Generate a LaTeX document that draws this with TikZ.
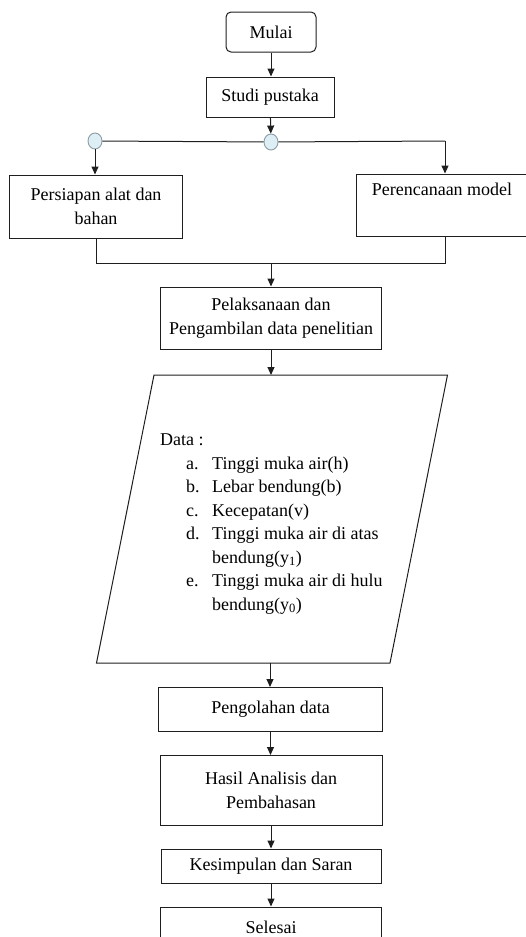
\documentclass[tikz,border=0pt]{standalone}
\usepackage{fontspec}
\setmainfont{Liberation Serif}
\usepackage{xcolor}
\definecolor{jointfill}{HTML}{DDEFF4}
\definecolor{jointline}{HTML}{8C9CA3}
\definecolor{lineink}{HTML}{1E1E1E}
\usetikzlibrary{shapes.geometric,arrows.meta,positioning}

\begin{document}
\begin{tikzpicture}[x=1pt, y=-1pt,
    box/.style={draw=lineink, line width=1pt, inner sep=2pt, align=center,
      font=\fontsize{18}{23.5}\selectfont},
    flow/.style={draw=lineink, line width=1pt, -{Triangle[length=8pt,width=7pt]}},
    link/.style={draw=lineink, line width=1pt},
    joint/.style={ellipse, draw=jointline, fill=jointfill, line width=0.9pt,
      minimum width=14pt, minimum height=16pt, inner sep=0pt}]
  \useasboundingbox (0,0) rectangle (526,937);
  % Start and literature study
  \node[box, rounded corners=5pt, minimum width=90pt, minimum height=40pt] (mulai) at (271,32) {Mulai};
  \node[box, minimum width=128pt, minimum height=40pt] (studi) at (270,97) {Studi pustaka};
  % Branch joints
  \node[joint] (jl) at (95,141) {};
  \node[joint] (jc) at (271,142) {};
  \coordinate (rc) at (445,141);
  % Two parallel boxes
  \node[box, minimum width=173pt, minimum height=63pt] (siap) at (96,206.5) {Persiapan alat dan\\bahan};
  \node[box, minimum width=172pt, minimum height=62pt] (renc) at (442,205) {Perencanaan model\\\strut};
  % Merge point
  \coordinate (mc) at (271,263);
  \coordinate (mr) at (445,263);
  \node[box, minimum width=221pt, minimum height=62pt] (laks) at (271,318) {Pelaksanaan dan\\Pengambilan data penelitian};
  % Data input (parallelogram)
  \coordinate (dtop) at (271,375);
  \coordinate (dbot) at (270,663);
  \draw[link] (154,375) -- (447.5,375) -- (390,663) -- (96.5,663) -- cycle;
  \node[anchor=north west, inner sep=0pt, font=\fontsize{18}{23.5}\selectfont] (data) at (160,429) {%
    \begin{tabular}{@{}p{26pt}@{}p{26pt}@{}l@{}}
      \multicolumn{3}{@{}l}{Data :}\\
      & a. & Tinggi muka air(h)\\
      & b. & Lebar bendung(b)\\
      & c. & Kecepatan(v)\\
      & d. & Tinggi muka air di atas\\
      &    & bendung(y\textsubscript{1})\\
      & e. & Tinggi muka air di hulu\\
      &    & bendung(y\textsubscript{0})
    \end{tabular}};
  % Processing and closing
  \node[box, minimum width=224pt, minimum height=44pt] (olah) at (270.5,709.5) {Pengolahan data};
  \node[box, minimum width=222pt, minimum height=70pt] (hasil) at (271,790.5) {Hasil Analisis dan\\Pembahasan};
  \node[box, minimum width=220pt, minimum height=34pt] (simpul) at (271,866) {Kesimpulan dan Saran};
  \node[box, minimum width=221pt, minimum height=40pt] (selesai) at (271,927) {Selesai};
  % Connectors
  \draw[flow] (mulai) -- (mulai |- studi.north);
  \draw[flow] (studi) -- (jc);
  \draw[link] (jl) -- (jc) -- (rc);
  \draw[flow] (jl) -- (jl |- siap.north);
  \draw[flow] (rc) -- (rc |- renc.north);
  \draw[link] (siap.south) -- (siap.south |- mc) -- (mr) -- (mr |- renc.south);
  \draw[flow] (mc) -- (laks);
  \draw[flow] (laks) -- (dtop);
  \draw[flow] (dbot) -- (dbot |- olah.north);
  \draw[flow] (olah) -- (olah |- hasil.north);
  \draw[flow] (hasil) -- (hasil |- simpul.north);
  \draw[flow] (simpul) -- (selesai);
\end{tikzpicture}
\end{document}
